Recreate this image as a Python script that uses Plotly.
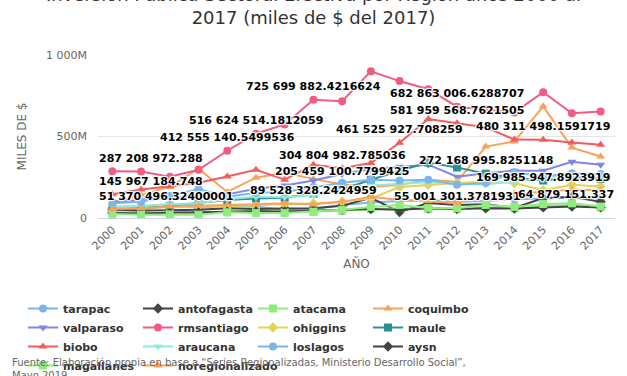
import plotly.graph_objects as go

years = list(range(2000, 2018))
year_labels = [str(y) for y in years]

tarapac = [60e6, 55e6, 70e6, 65e6, 75e6, 70e6, 50e6, 55e6, 80e6, 95e6, 105e6, 110e6, 100e6, 105e6, 115e6, 120e6, 125e6, 120e6]
antofagasta = [50e6, 45e6, 48e6, 50e6, 60e6, 55e6, 58e6, 60e6, 75e6, 124e6, 37e6, 92e6, 80e6, 85e6, 62e6, 123e6, 130e6, 99e6]
atacama = [35e6, 30e6, 40e6, 25e6, 40e6, 45e6, 35e6, 40e6, 45e6, 55e6, 60e6, 55e6, 55001301.3781931, 65e6, 60e6, 75e6, 80e6, 64879151.337]
coquimbo = [92e6, 142e6, 191e6, 302e6, 160e6, 247e6, 278e6, 240e6, 205459100.7799425, 190e6, 204e6, 235e6, 222e6, 438e6, 470e6, 685e6, 432e6, 377e6]
valparaso = [100e6, 110e6, 120e6, 140e6, 145e6, 180e6, 200e6, 230e6, 270e6, 300e6, 315e6, 327e6, 253e6, 275e6, 290e6, 290e6, 345e6, 327e6]
rmsantiago = [287208972.288, 285e6, 253e6, 296e6, 412555140.5499536, 516624514.1812059, 574e6, 725699882.4216624, 716e6, 900e6, 840e6, 790e6, 682863006.6288707, 665e6, 648e6, 772e6, 642e6, 654e6]
ohiggins = [60e6, 62e6, 65e6, 70e6, 72e6, 80e6, 85e6, 89528328.2424959, 100e6, 120e6, 190e6, 204e6, 215e6, 222e6, 215e6, 169985947.8923919, 204e6, 193e6]
maule = [51370496.32400001, 60e6, 75e6, 92e6, 110e6, 120e6, 125e6, 150e6, 175e6, 235e6, 290e6, 340e6, 310e6, 272168995.8251148, 245e6, 230e6, 250e6, 240e6]
biobo = [145967184.748, 175e6, 195e6, 216e6, 255e6, 296e6, 235e6, 327e6, 304804982.785036, 337e6, 461525927.708259, 607e6, 581959568.7621505, 556e6, 481e6, 480311498.1591719, 463e6, 450e6]
araucana = [70e6, 75e6, 85e6, 90e6, 115e6, 130e6, 128e6, 140e6, 165e6, 200e6, 210e6, 220e6, 210e6, 205e6, 225e6, 240e6, 275e6, 265e6]
loslagos = [90e6, 100e6, 135e6, 178e6, 130e6, 155e6, 160e6, 190e6, 216e6, 235e6, 230e6, 234e6, 204e6, 215e6, 280e6, 255e6, 275e6, 270e6]
aysn = [30e6, 28e6, 32e6, 35e6, 40e6, 42e6, 40e6, 45e6, 50e6, 55e6, 50e6, 60e6, 55e6, 60e6, 58e6, 65e6, 70e6, 65e6]
magallanes = [25e6, 20e6, 22e6, 20e6, 35e6, 30e6, 30e6, 38e6, 50e6, 68e6, 80e6, 62e6, 60e6, 80e6, 68e6, 86e6, 90e6, 70e6]
noregionalizado = [55e6, 60e6, 70e6, 75e6, 80e6, 85e6, 90e6, 85e6, 99e6, 130e6, 110e6, 105e6, 91e6, 140e6, 150e6, 160e6, 175e6, 170e6]

series_names = ["tarapac", "antofagasta", "atacama", "coquimbo", "valparaso", "rmsantiago", "ohiggins",
                "maule", "biobo", "araucana", "loslagos", "aysn", "magallanes", "noregionalizado"]
series_values = [tarapac, antofagasta, atacama, coquimbo, valparaso, rmsantiago, ohiggins,
                 maule, biobo, araucana, loslagos, aysn, magallanes, noregionalizado]

colors = ['#7cb5ec', '#434348', '#90ed7d', '#f7a35c', '#8085e9', '#f15c80', '#e4d354', '#2b908f', '#f45b5b', '#91e8e1']
symbols = ['circle', 'diamond', 'square', 'triangle-up', 'triangle-down']

# visible data labels: (series, year)
labelled = [("rmsantiago", 2000), ("biobo", 2000), ("maule", 2000), ("rmsantiago", 2004),
            ("rmsantiago", 2005), ("rmsantiago", 2007), ("biobo", 2008), ("coquimbo", 2008),
            ("ohiggins", 2007), ("biobo", 2010), ("rmsantiago", 2012), ("biobo", 2012),
            ("biobo", 2015), ("maule", 2013), ("ohiggins", 2015), ("atacama", 2012),
            ("atacama", 2017)]

y_tickvals = [0, 500e6, 1000e6]
y_ticktext = ["0", "500M", "1 000M"]

title_text = "Inversión Pública Sectoral Efectiva por Región años 2000 al<br>2017 (miles de $ del 2017)"
source_text = "Fuente: Elaboración propia en base a “Series Regionalizadas, Ministerio Desarrollo Social”,<br>Mayo 2019"


def fmt(v):
    s = repr(float(v))
    if '.' in s:
        ip, dp = s.split('.')
    else:
        ip, dp = s, ''
    ip = f"{int(ip):,}".replace(',', ' ')
    return ip + ('.' + dp if dp and dp != '0' else '')


fig = go.Figure()
for i, (name, vals) in enumerate(zip(series_names, series_values)):
    fig.add_trace(go.Scatter(
        x=years, y=vals, name=name, mode='lines+markers',
        line=dict(color=colors[i % 10], width=2),
        marker=dict(symbol=symbols[i % 5], size=8, color=colors[i % 10]),
    ))

annotations = []
for name, yr in labelled:
    vals = series_values[series_names.index(name)]
    idx = years.index(yr)
    v = vals[idx]
    a = dict(x=yr, y=v, xref='x', yref='y', text=fmt(v), showarrow=False,
             yanchor='middle', yshift=13,
             font=dict(family='DejaVu Sans', size=11, color='#000000', weight='bold',
                       shadow='1px 1px 1px #fff, -1px -1px 1px #fff, 1px -1px 1px #fff, -1px 1px 1px #fff'))
    if idx == 0:
        a.update(xanchor='left', xshift=-15)
    elif idx == len(years) - 1:
        a.update(xanchor='right', xshift=15)
    else:
        a.update(xanchor='center')
    annotations.append(a)

annotations.append(dict(xref='paper', yref='paper', x=-88 / 517, y=-(355 - 218) / 163,
                        xanchor='left', yanchor='top', align='left', text=source_text, showarrow=False,
                        font=dict(family='DejaVu Sans', size=10, color='#666666')))

fig.update_layout(
    width=627, height=376,
    margin=dict(l=98, r=12, t=55, b=158, autoexpand=False),
    plot_bgcolor='white', paper_bgcolor='white',
    font=dict(family='DejaVu Sans', color='#333333'),
    title=dict(text=title_text, x=0.5, xanchor='center', yref='container', y=0.998, yanchor='middle',
               font=dict(size=18, color='#333333')),
    xaxis=dict(range=[1999.5, 2017.5], tickvals=years, ticktext=year_labels, tickangle=-45, showgrid=False,
               showline=True, linecolor='#ccd6eb', linewidth=1, ticks='', zeroline=False,
               tickfont=dict(size=11, color='#666666'), automargin=False,
               title=dict(text='AÑO', font=dict(size=12, color='#666666'), standoff=8)),
    yaxis=dict(range=[0, 1000e6], tickvals=y_tickvals, ticktext=y_ticktext, showgrid=True,
               gridcolor='#e6e6e6', zeroline=False, showline=False, automargin=False,
               tickfont=dict(size=11, color='#666666'), ticklabelstandoff=10,
               title=dict(text='MILES DE $', font=dict(size=12, color='#666666'), standoff=16)),
    legend=dict(orientation='h', xref='container', yref='container', x=23 / 627, y=1 - 294 / 376,
                xanchor='left', yanchor='top', entrywidth=70, entrywidthmode='pixels',
                itemwidth=30, tracegroupgap=0,
                font=dict(family='DejaVu Sans', size=11, color='#333333', weight='bold'),
                bgcolor='rgba(0,0,0,0)'),
    annotations=annotations,
    showlegend=True,
)

fig.write_html("out.html", config={'displayModeBar': False},
               post_script="document.body.style.margin='0';document.body.style.padding='0';")
